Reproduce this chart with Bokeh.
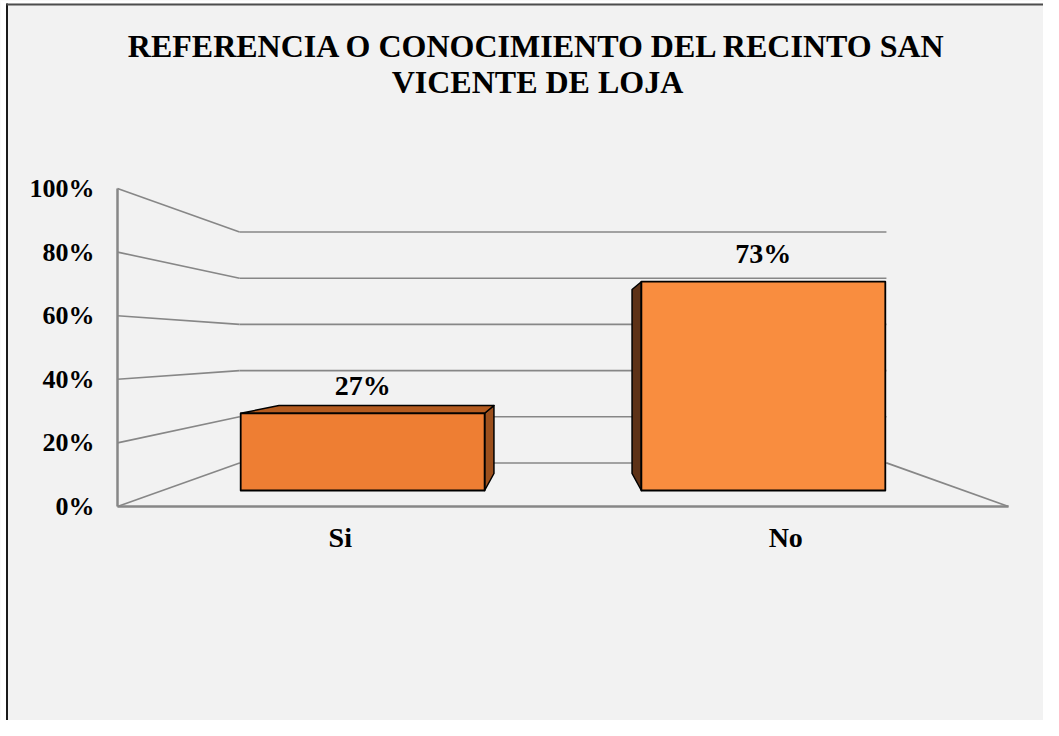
from bokeh.plotting import figure
from bokeh.models import Range1d
from bokeh.core.properties import value
from bokeh.embed import file_html
from bokeh.resources import INLINE

# ---------------- data ----------------
title_lines = ["REFERENCIA O CONOCIMIENTO DEL RECINTO SAN", "VICENTE DE LOJA"]
categories = ["Si", "No"]
percentages = [27, 73]
value_labels = ["27%", "73%"]
tick_values = [0, 20, 40, 60, 80, 100]
tick_labels = ["0%", "20%", "40%", "60%", "80%", "100%"]

# ---------------- layout / style ----------------
W, H = 1043, 720
ORIGIN_X, ORIGIN_Y = 117, 506   # pixel position of (first category edge, 0%) on the front plane
PX_PER_CAT = 445.5              # pixels per category on the front plane
PX_PER_PCT = 3.18               # pixels per percent on the front plane


def wx(px):
    return (px - ORIGIN_X) / PX_PER_CAT


def wy(py):
    return (ORIGIN_Y - py) / PX_PER_PCT


S_WALL = 0.726                  # depth scale of the back wall
S_BAR_FRONT = 0.8994
S_BAR_BACK = 0.7925
HALF_W = 0.3044                 # half bar width (category units)
VP_X, VP_Y = len(categories) / 2, 50.0   # vanishing point (world units)

GRID = "#878787"
BG = "#f2f2f2"
FONT = value("Liberation Serif")
front_colors = ["#EE7E33", "#F98D3F"]
top_colors = ["#B45B1F", "#B45B1F"]
side_colors = ["#9C501D", "#5E3217"]


def proj(x, y, s):
    return VP_X + s * (x - VP_X), VP_Y + s * (y - VP_Y)


n = len(categories)
p = figure(width=W, height=H, output_backend="svg", toolbar_location=None,
           x_range=Range1d(wx(0), wx(W)), y_range=Range1d(wy(H), wy(0)),
           x_axis_location=None, y_axis_location=None,
           min_border=0, background_fill_color=BG, border_fill_color=BG,
           outline_line_color=None)
p.xgrid.visible = False
p.ygrid.visible = False

# outer chart-area border (image is cropped: only top and left edges visible)
p.quad(left=[wx(0), wx(0)], right=[wx(5.5), wx(W)], bottom=[wy(H), wy(3)], top=[wy(0), wy(0)],
       fill_color="white", line_color=None)
p.segment([wx(6.5)], [wy(3)], [wx(6.5)], [wy(H)], line_color="#1a1a1a", line_width=2)
p.segment([wx(6)], [wy(4)], [wx(W)], [wy(4)], line_color="#4d4d4d", line_width=2)

# walls: back wall gridlines and side-wall perspective lines
bx0, bx1, by0, by1 = [], [], [], []
for t in tick_values:
    a = proj(0, t, S_WALL)
    b = proj(n, t, S_WALL)
    bx0 += [a[0], 0]; by0 += [a[1], t]
    bx1 += [b[0], a[0]]; by1 += [b[1], a[1]]
p.segment(bx0, by0, bx1, by1, line_color=GRID, line_width=1.6)
# floor right edge
fr = proj(n, 0, S_WALL)
p.segment([fr[0]], [fr[1]], [n], [0], line_color=GRID, line_width=1.8)
# floor front edge and value-axis line
p.segment([0, 0], [0, 0], [n, 0], [0, max(tick_values)], line_color=GRID, line_width=2.5)

# value-axis tick labels
p.text([wx(ORIGIN_X - 23)] * len(tick_values), tick_values, text=tick_labels, text_font=FONT,
       text_font_style="bold", text_font_size="26px", text_align="right",
       text_baseline="middle", text_color="black")

# bars
fxs, fys, oxs, oys, ocol = [], [], [], [], []
lab_x, lab_y = [], []
for i, v in enumerate(percentages):
    xc = i + 0.5
    x0, x1 = xc - HALF_W, xc + HALF_W
    f = [proj(x0, 0, S_BAR_FRONT), proj(x1, 0, S_BAR_FRONT),
         proj(x1, v, S_BAR_FRONT), proj(x0, v, S_BAR_FRONT)]
    fxs.append([q[0] for q in f]); fys.append([q[1] for q in f])
    # side face (the one turned towards the vanishing point)
    xs_ = x1 if xc < VP_X else x0
    sd = [proj(xs_, 0, S_BAR_FRONT), proj(xs_, v, S_BAR_FRONT),
          proj(xs_, v, S_BAR_BACK), proj(xs_, 0, S_BAR_BACK)]
    oxs.append([q[0] for q in sd]); oys.append([q[1] for q in sd]); ocol.append(side_colors[i])
    # top face visible when below eye level
    if v < VP_Y:
        tp = [proj(x0, v, S_BAR_FRONT), proj(x1, v, S_BAR_FRONT),
              proj(x1, v, S_BAR_BACK), proj(x0, v, S_BAR_BACK)]
        oxs.append([q[0] for q in tp]); oys.append([q[1] for q in tp]); ocol.append(top_colors[i])
    c = proj(xc, v, S_BAR_FRONT)
    lab_x.append(c[0]); lab_y.append(c[1] + 28 / PX_PER_PCT)

p.patches(oxs, oys, fill_color=ocol, line_color="black", line_width=1.5, line_join="round")
p.patches(fxs, fys, fill_color=front_colors, line_color="black", line_width=1.8, line_join="round")

# data labels
p.text(lab_x, lab_y, text=value_labels, text_font=FONT, text_font_style="bold",
       text_font_size="28px", text_align="center", text_baseline="middle", text_color="black")

# category labels on the front plane
p.text([i + 0.5 for i in range(n)], [-30.5 / PX_PER_PCT] * n, text=categories, text_font=FONT,
       text_font_style="bold", text_font_size="28px", text_align="center",
       text_baseline="middle", text_color="black")

# title
ty = [wy(45.5), wy(81.5)]
p.text([wx(537)] * len(title_lines), ty, text=title_lines, text_font=FONT, text_font_style="bold",
       text_font_size="32px", text_align="center", text_baseline="middle", text_color="black")

open("out.html", "w").write(file_html(p, INLINE))
